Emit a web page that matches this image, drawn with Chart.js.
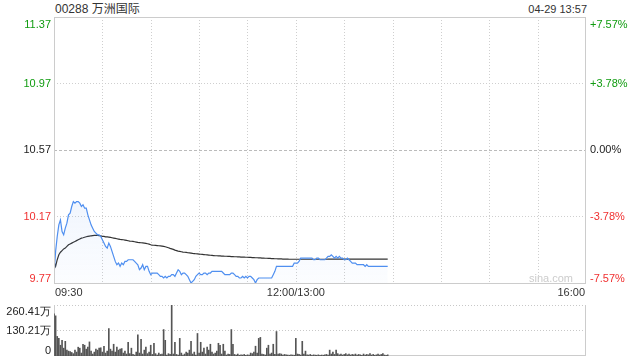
<!DOCTYPE html>
<html>
<head>
<meta charset="utf-8">
<script src="https://cdn.jsdelivr.net/npm/chart.js@4.4.1/dist/chart.umd.min.js"></script>
<style>
body{margin:0;background:#fff;font-family:Arial,"Liberation Sans","Noto Sans CJK SC",sans-serif}
#wrap{position:relative;width:640px;height:360px;overflow:hidden}
#chartPrice{position:absolute;left:0;top:0}
#chartVol{position:absolute;left:0;top:300px}
.hd{position:absolute;top:1px;line-height:16px;color:#333}
</style>
</head>
<body>
<div id="wrap">
<div class="hd" style="left:55px;font-size:12px">00288 万洲国际</div>
<div class="hd" style="right:53px;font-size:11px">04-29 13:57</div>
<canvas id="chartPrice" width="640" height="300"></canvas>
<canvas id="chartVol" width="640" height="60"></canvas>
</div>
<script>
// minute index from 09:30 (0..330, lunch break removed)
const timeTicks=[0,150,330]
const timeLabels=['09:30','12:00/13:00','16:00']
const timeGrid=[30,60,90,120,150,180,210,240,270,300]
const prevClose=10.57
const priceTicks=[9.77,10.17,10.57,10.97,11.37]
const pctLabels=['-7.57%','-3.78%','0.00%','+3.78%','+7.57%']
const volTicks=[0,130.21,260.41]
const volLabels=['0','130.21万','260.41万']

const price=[
9.82,9.96,10.05,10.12,10.15,10.08,10.06,10.10,10.13,10.18,
10.19,10.23,10.26,10.25,10.26,10.26,10.25,10.23,10.24,10.22,
10.22,10.18,10.15,10.12,10.10,10.08,10.07,10.06,10.06,10.05,
10.03,10.01,9.99,9.98,10.01,9.99,9.96,9.93,9.90,9.88,
9.89,9.87,9.89,9.88,9.90,9.90,9.91,9.91,9.91,9.91,
9.90,9.89,9.88,9.85,9.86,9.88,9.85,9.87,9.87,9.84,
9.82,9.83,9.83,9.83,9.83,9.82,9.81,9.81,9.80,9.81,
9.80,9.81,9.81,9.82,9.82,9.81,9.83,9.85,9.84,9.82,
9.83,9.83,9.82,9.81,9.79,9.77,9.78,9.79,9.81,9.82,
9.83,9.82,9.82,9.83,9.83,9.82,9.83,9.83,9.84,9.84,
9.84,9.84,9.84,9.84,9.84,9.83,9.82,9.82,9.82,9.82,
9.83,9.83,9.82,9.81,9.81,9.80,9.80,9.81,9.80,9.81,
9.80,9.81,9.81,9.80,9.79,9.77,9.79,9.80,9.80,9.80,
9.80,9.80,9.80,9.80,9.80,9.80,9.82,9.84,9.87,9.87,
9.87,9.87,9.87,9.87,9.87,9.87,9.87,9.87,9.87,9.89,
9.89,9.89,9.90,9.92,9.92,9.92,9.92,9.92,9.92,9.92,
9.92,9.91,9.91,9.92,9.92,9.91,9.91,9.91,9.91,9.92,
9.93,9.93,9.94,9.93,9.92,9.93,9.92,9.93,9.92,9.92,
9.91,9.91,9.92,9.91,9.90,9.89,9.89,9.89,9.88,9.88,
9.88,9.88,9.88,9.87,9.88,9.87,9.87,9.87,9.87,9.87,
9.87,9.87,9.87,9.87,9.87,9.87,9.87,9.87]

const avgPrice=[
9.90,9.87,9.91,9.94,9.955,9.965,9.975,9.98,9.99,10.0,
10.005,10.01,10.015,10.02,10.025,10.03,10.035,10.04,10.042,10.045,
10.048,10.05,10.052,10.054,10.055,10.056,10.057,10.056,10.055,10.053,
10.051,10.05,10.048,10.047,10.046,10.044,10.042,10.04,10.038,10.036,
10.034,10.032,10.031,10.03,10.028,10.026,10.024,10.022,10.021,10.02,
10.018,10.016,10.014,10.013,10.012,10.011,10.01,10.008,10.006,10.004,
10.0,9.998,9.997,9.996,9.995,9.994,9.993,9.992,9.99,9.988,
9.985,9.982,9.978,9.975,9.972,9.968,9.965,9.962,9.96,9.958,
9.956,9.955,9.954,9.952,9.951,9.95,9.948,9.947,9.946,9.945,
9.944,9.943,9.942,9.941,9.94,9.939,9.938,9.937,9.936,9.935,
9.934,9.934,9.933,9.933,9.932,9.932,9.931,9.931,9.93,9.93,
9.929,9.929,9.928,9.928,9.927,9.927,9.926,9.926,9.926,9.925,
9.925,9.924,9.924,9.923,9.923,9.922,9.922,9.921,9.921,9.92,
9.92,9.919,9.919,9.918,9.918,9.917,9.917,9.916,9.916,9.915,
9.915,9.915,9.914,9.914,9.914,9.914,9.913,9.913,9.913,9.913,
9.913,9.913,9.913,9.913,9.913,9.913,9.913,9.913,9.913,9.913,
9.913,9.913,9.913,9.913,9.913,9.913,9.913,9.913,9.913,9.913,
9.914,9.914,9.914,9.914,9.914,9.914,9.914,9.914,9.914,9.914,
9.914,9.914,9.914,9.914,9.914,9.914,9.914,9.914,9.914,9.914,
9.914,9.914,9.914,9.914,9.914,9.914,9.914,9.914,9.914,9.914,
9.914,9.914,9.914,9.914,9.914,9.914,9.914,9.914]

// volume in 万 shares per minute
const volume=[
215,205,100,90,55,80,40,75,30,25,
22,18,12,30,20,45,40,15,60,55,
35,45,72,25,10,20,35,30,40,42,
20,50,15,25,140,35,25,60,20,45,
30,35,38,15,25,10,70,12,40,8,
5,20,108,15,85,10,30,45,12,20,
55,8,65,12,5,15,8,10,135,80,
5,12,8,260,10,70,8,5,90,15,
5,10,20,15,30,75,10,20,5,115,
15,70,20,40,10,45,30,60,20,10,
15,25,65,55,10,60,25,5,10,8,
135,60,8,5,10,4,6,5,8,4,
6,5,15,12,20,50,15,90,95,10,
8,5,40,55,10,15,60,8,125,10,
12,10,5,8,6,5,4,6,5,4,
90,10,8,5,75,10,25,6,5,8,
4,6,5,4,6,3,5,4,6,8,
5,30,10,20,8,30,12,6,10,5,
8,12,6,10,5,8,6,10,5,8,
6,4,10,5,8,6,12,5,8,4,
6,10,5,8,12,5,4,6]

const GREEN='#109c10', RED='#f03030', DARK='#222'
const FONT='11px Arial, "Liberation Sans", sans-serif'

function tickColor(v){ return v>prevClose ? GREEN : (v<prevClose ? RED : DARK) }

function hline(ctx,x1,x2,y){ ctx.beginPath(); ctx.moveTo(x1,y); ctx.lineTo(x2,y); ctx.stroke() }
function vline(ctx,x,y1,y2){ ctx.beginPath(); ctx.moveTo(x,y1); ctx.lineTo(x,y2); ctx.stroke() }

const priceFrame={
  id:'priceFrame',
  beforeDatasetsDraw(chart){
    const {ctx,chartArea:a,scales:{x,y}}=chart
    ctx.save()
    ctx.lineWidth=1
    ctx.strokeStyle='#cfcfcf'
    ctx.setLineDash([1,2])
    timeGrid.forEach(t=>{ const px=Math.round(x.getPixelForValue(t))+0.5; vline(ctx,px,a.top,a.bottom) })
    priceTicks.slice(1,-1).forEach(v=>{
      const py=Math.round(y.getPixelForValue(v))+0.5
      if(v===prevClose){ ctx.setLineDash([3,2]); ctx.strokeStyle='#bbb' } else { ctx.setLineDash([1,2]); ctx.strokeStyle='#cfcfcf' }
      hline(ctx,a.left,a.right,py)
    })
    ctx.setLineDash([])
    ctx.fillStyle='#cccccc'
    ctx.font=FONT
    ctx.textAlign='right'; ctx.textBaseline='middle'
    ctx.fillText('sina.com',a.right-13,a.bottom-4)
    ctx.restore()
  },
  afterDraw(chart){
    const {ctx,chartArea:a,scales:{x,y}}=chart
    ctx.save()
    ctx.strokeStyle='#cccccc'; ctx.lineWidth=1
    ctx.strokeRect(Math.round(a.left)+0.5,Math.round(a.top)+0.5,Math.round(a.right-a.left)-1,Math.round(a.bottom-a.top))
    ctx.font=FONT
    priceTicks.forEach((v,i)=>{
      let py=y.getPixelForValue(v), base='middle'
      if(i===priceTicks.length-1){ base='top'; py=a.top+2 }
      if(i===0){ base='bottom'; py=a.bottom+1 }
      ctx.textBaseline=base
      ctx.fillStyle=tickColor(v)
      ctx.textAlign='right'; ctx.fillText(v.toFixed(2),a.left-3,py)
      ctx.textAlign='left'; ctx.fillText(pctLabels[i],a.right+4,py)
    })
    ctx.fillStyle='#333'; ctx.textBaseline='top'
    timeTicks.forEach((t,i)=>{
      const px=x.getPixelForValue(t)
      ctx.textAlign= i===0 ? 'left' : (i===timeTicks.length-1 ? 'right' : 'center')
      ctx.fillText(timeLabels[i], i===0 ? px+1 : (i===timeTicks.length-1 ? px-1 : px), a.bottom+4)
    })
    ctx.restore()
  }
}

const volFrame={
  id:'volFrame',
  beforeDatasetsDraw(chart){
    const {ctx,chartArea:a,scales:{y}}=chart
    ctx.save()
    ctx.lineWidth=1
    ctx.strokeStyle='#c8c8c8'
    ctx.setLineDash([1,2])
    volTicks.slice(1).forEach(v=>{ hline(ctx,a.left,a.right,Math.round(y.getPixelForValue(v))+0.5) })
    ctx.setLineDash([])
    ctx.strokeStyle='#cccccc'
    vline(ctx,Math.round(a.left)+0.5,a.top,a.bottom)
    vline(ctx,Math.round(a.right)-0.5,a.top,a.bottom)
    hline(ctx,a.left,a.right,Math.round(a.bottom)-0.5)
    ctx.font=FONT; ctx.fillStyle='#222'; ctx.textAlign='right'
    volTicks.forEach((v,i)=>{
      let py=y.getPixelForValue(v), base='middle'
      if(i===volTicks.length-1){ base='top'; py=a.top+1 }
      if(i===0){ base='bottom'; py=a.bottom }
      ctx.textBaseline=base
      ctx.fillText(volLabels[i],a.left-3,py)
    })
    ctx.restore()
  }
}

Chart.defaults.font.family='Arial, "Liberation Sans", sans-serif'

new Chart(document.getElementById('chartPrice'),{
  type:'line',
  data:{
    datasets:[
      {
        label:'price',
        data:price.map((v,i)=>({x:i,y:v})),
        borderColor:'#4f8ff0',
        borderWidth:1.2,
        fill:'start',
        backgroundColor:(c)=>{
          const a=c.chart.chartArea
          if(!a) return 'rgba(80,140,240,0.08)'
          const g=c.chart.ctx.createLinearGradient(0,a.top,0,a.bottom)
          g.addColorStop(0,'rgba(80,140,240,0.22)')
          g.addColorStop(1,'rgba(80,140,240,0.02)')
          return g
        },
        pointRadius:0,
        tension:0
      },
      {
        label:'avg',
        data:avgPrice.map((v,i)=>({x:i,y:v})),
        borderColor:'#333',
        borderWidth:1.2,
        fill:false,
        pointRadius:0,
        tension:0
      }
    ]
  },
  options:{
    responsive:false,
    animation:false,
    layout:{padding:{left:54,right:54,top:17,bottom:17}},
    plugins:{legend:{display:false},tooltip:{enabled:false},title:{display:false}},
    scales:{
      x:{type:'linear',min:0,max:330,display:false},
      y:{min:priceTicks[0],max:priceTicks[priceTicks.length-1],display:false}
    }
  },
  plugins:[priceFrame]
})

new Chart(document.getElementById('chartVol'),{
  type:'bar',
  data:{
    datasets:[{
      label:'volume',
      data:volume.map((v,i)=>({x:i,y:v})),
      backgroundColor:'#555',
      barThickness:1
    }]
  },
  options:{
    responsive:false,
    animation:false,
    layout:{padding:{left:54,right:54,top:5,bottom:4}},
    plugins:{legend:{display:false},tooltip:{enabled:false}},
    scales:{
      x:{type:'linear',min:0,max:330,offset:false,display:false},
      y:{min:0,max:volTicks[volTicks.length-1],display:false}
    }
  },
  plugins:[volFrame]
})
</script>
</body>
</html>
